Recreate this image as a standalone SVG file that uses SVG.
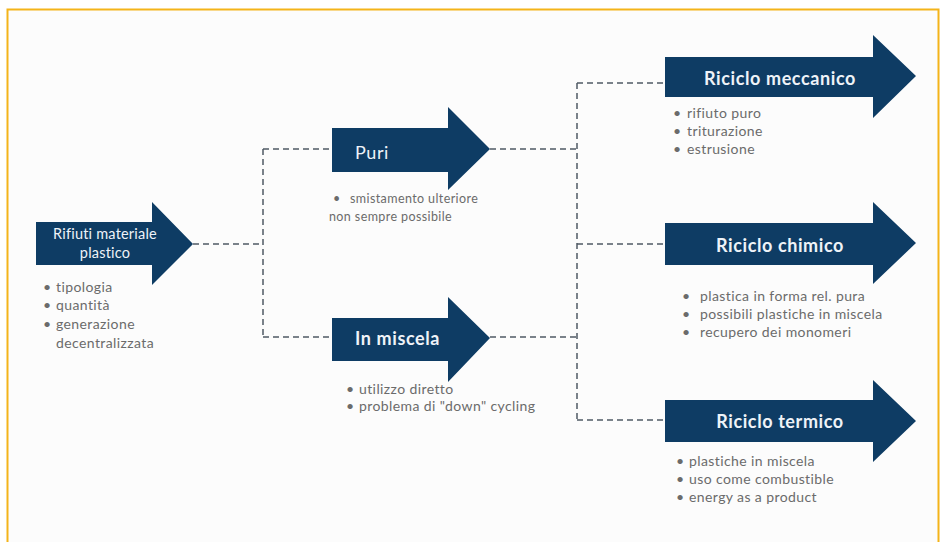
<svg xmlns="http://www.w3.org/2000/svg" width="943" height="542" viewBox="0 0 943 542">
  <style>
    .arrow { fill: #0e3c64; }
    .lbl { font-family: Lato, "Open Sans", "Liberation Sans", sans-serif; fill: #eef3f8; }
    .lbl-s { font-size: 14.5px; letter-spacing: 0.2px; }
    .lbl-l { font-size: 18px; font-weight: 700; letter-spacing: 0.6px; }
    .note { font-family: Lato, "Open Sans", "Liberation Sans", sans-serif; fill: #6b6b6b; font-size: 14px; letter-spacing: 0.4px; }
    .note-s { font-size: 12.5px; letter-spacing: 0.4px; }
    .conn { fill: none; stroke: #4f5a64; stroke-width: 1.5; stroke-dasharray: 6 4; }
  </style>

  <!-- frame -->
  <rect x="0" y="0" width="943" height="542" fill="#ffffff"/>
  <rect x="7.5" y="9.5" width="931" height="545" fill="#fcfcfc" stroke="#f4b41a" stroke-width="2"/>

  <!-- dashed connectors -->
  <g id="connectors" class="conn">
    <path d="M193,244 H263"/>
    <path d="M263,149 V337"/>
    <path d="M263,149 H332"/>
    <path d="M263,337 H332"/>
    <path d="M490,149 H577"/>
    <path d="M490,337 H577"/>
    <path d="M577,83 V420"/>
    <path d="M577,83 H665"/>
    <path d="M577,244 H665"/>
    <path d="M577,420 H665"/>
  </g>

  <!-- source -->
  <g id="rifiuti">
    <polygon class="arrow" points="36,222 152,222 152,202 193,244 152,285 152,265 36,265"/>
    <text class="lbl lbl-s" x="105" y="239" text-anchor="middle">Rifiuti materiale</text>
    <text class="lbl lbl-s" x="105" y="258" text-anchor="middle">plastico</text>
    <g class="note">
      <text x="43" y="292">•</text><text x="56" y="292">tipologia</text>
      <text x="43" y="310">•</text><text x="56" y="310">quantità</text>
      <text x="43" y="329">•</text><text x="56" y="329">generazione</text>
      <text x="56" y="348">decentralizzata</text>
    </g>
  </g>

  <!-- pure fraction -->
  <g id="puri">
    <polygon class="arrow" points="332,128 448,128 448,107 490,149 448,190 448,172 332,172"/>
    <text class="lbl lbl-l" x="355" y="159" style="font-weight:400">Puri</text>
    <g class="note note-s">
      <text x="333" y="203">•</text><text x="350" y="203">smistamento ulteriore</text>
      <text x="329" y="221">non sempre possibile</text>
    </g>
  </g>

  <!-- mixed fraction -->
  <g id="miscela">
    <polygon class="arrow" points="332,318 448,318 448,297 490,338 448,382 448,361 332,361"/>
    <text class="lbl lbl-l" x="355" y="345">In miscela</text>
    <g class="note">
      <text x="346" y="394">•</text><text x="359" y="394">utilizzo diretto</text>
      <text x="346" y="411">•</text><text x="359" y="411">problema di "down" cycling</text>
    </g>
  </g>

  <!-- mechanical recycling -->
  <g id="meccanico">
    <polygon class="arrow" points="665,57 873,57 873,35 916,76 873,118 873,97 665,97"/>
    <text class="lbl lbl-l" x="780" y="85" text-anchor="middle">Riciclo meccanico</text>
    <g class="note">
      <text x="673" y="118">•</text><text x="687" y="118">rifiuto puro</text>
      <text x="673" y="136">•</text><text x="687" y="136">triturazione</text>
      <text x="673" y="154">•</text><text x="687" y="154">estrusione</text>
    </g>
  </g>

  <!-- chemical recycling -->
  <g id="chimico">
    <polygon class="arrow" points="665,223 873,223 873,202 916,243 873,284 873,265 665,265"/>
    <text class="lbl lbl-l" x="780" y="252" text-anchor="middle">Riciclo chimico</text>
    <g class="note">
      <text x="682" y="301">•</text><text x="700" y="301">plastica in forma rel. pura</text>
      <text x="682" y="319">•</text><text x="700" y="319">possibili plastiche in miscela</text>
      <text x="682" y="337">•</text><text x="700" y="337">recupero dei monomeri</text>
    </g>
  </g>

  <!-- thermal recycling -->
  <g id="termico">
    <polygon class="arrow" points="665,400 873,400 873,380 916,421 873,462 873,442 665,442"/>
    <text class="lbl lbl-l" x="780" y="428" text-anchor="middle">Riciclo termico</text>
    <g class="note">
      <text x="676" y="466">•</text><text x="689" y="466">plastiche in miscela</text>
      <text x="676" y="484">•</text><text x="689" y="484">uso come combustible</text>
      <text x="676" y="502">•</text><text x="689" y="502">energy as a product</text>
    </g>
  </g>
</svg>
